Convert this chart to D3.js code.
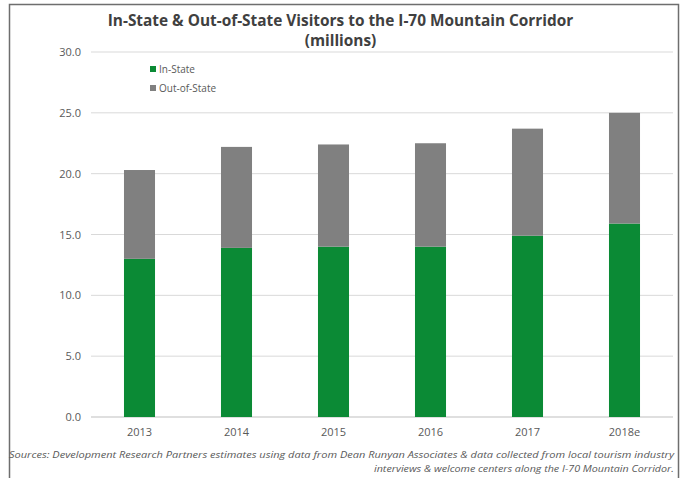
<!DOCTYPE html>
<html><head><meta charset="utf-8">
<script src="https://cdn.jsdelivr.net/npm/d3@7"></script>
<style>body{margin:0;background:#fff}svg{display:block}</style>
</head><body><svg id="c" width="684" height="478"></svg>
<script>
const years = ["2013","2014","2015","2016","2017","2018e"];
const inState = [13.0, 13.9, 14.0, 14.0, 14.9, 15.9];
const outState = [7.3, 8.3, 8.4, 8.5, 8.8, 9.1];
const yTicks = [0,5,10,15,20,25,30];
const seriesNames = ["In-State","Out-of-State"];
const colors = ["#0b8a35","#808080"];

const svg = d3.select("#c");
svg.append("rect").attr("x",9.5).attr("y",4.5).attr("width",669).attr("height",490)
  .attr("fill","#fff").attr("stroke","#6e6e6e").attr("stroke-width",1.5);

const m = {l:91, r:673, t:52, b:417};
const x = d3.scaleBand().domain(years).range([m.l,m.r]).paddingInner(0.68).paddingOuter(0.34);
const y = d3.scaleLinear().domain([0,30]).range([m.b,m.t]);

svg.append("g").selectAll("line").data(yTicks).join("line")
  .attr("x1",m.l).attr("x2",m.r).attr("y1",d=>y(d)).attr("y2",d=>y(d))
  .attr("stroke",d=>d===0?"#bfbfbf":"#d9d9d9").attr("stroke-width",1);

const yAxis = d3.axisLeft(y).tickValues(yTicks).tickFormat(d3.format(".1f")).tickSize(0).tickPadding(10);
const gy = svg.append("g").attr("transform",`translate(${m.l},0)`).call(yAxis);
gy.select(".domain").remove();
gy.selectAll("text").attr("font-family","Open Sans, sans-serif").attr("font-size",11).attr("fill","#595959");

const xAxis = d3.axisBottom(x).tickSize(0).tickPadding(11);
const gx = svg.append("g").attr("transform",`translate(0,${m.b})`).call(xAxis);
gx.select(".domain").remove();
gx.selectAll("text").attr("font-family","Open Sans, sans-serif").attr("font-size",11).attr("fill","#595959");

const data = years.map((yr,i)=>({year:yr,"In-State":inState[i],"Out-of-State":outState[i]}));
const stacked = d3.stack().keys(seriesNames)(data);
svg.append("g").selectAll("g").data(stacked).join("g").attr("fill",(d,i)=>colors[i])
  .selectAll("rect").data(d=>d).join("rect")
  .attr("x",d=>x(d.data.year)).attr("width",x.bandwidth())
  .attr("y",d=>y(d[1])).attr("height",d=>y(d[0])-y(d[1]));

const lg = svg.append("g");
seriesNames.forEach((n,i)=>{
  lg.append("rect").attr("x",150).attr("y",66+i*19).attr("width",6).attr("height",6).attr("fill",colors[i]);
  lg.append("text").attr("x",159).attr("y",72.5+i*19).text(n)
    .attr("font-family","Open Sans, sans-serif").attr("font-size",10).attr("fill","#595959");
});

const tt = svg.append("g").attr("text-anchor","middle").attr("font-family","Open Sans, sans-serif")
  .attr("font-weight","bold").attr("font-size",15.4).attr("fill","#404040");
tt.append("text").attr("x",340.5).attr("y",26)
  .text("In-State & Out-of-State Visitors to the I-70 Mountain Corridor");
tt.append("text").attr("x",340.5).attr("y",46).text("(millions)");

const src = svg.append("g").attr("font-family","Open Sans, sans-serif").attr("font-style","italic")
  .attr("font-size",8.5).attr("fill","#595959").attr("text-anchor","end");
src.append("text").attr("x",674).attr("y",458).attr("textLength",665).attr("lengthAdjust","spacingAndGlyphs")
  .text("Sources: Development Research Partners estimates using data from Dean Runyan Associates & data collected from local tourism industry");
src.append("text").attr("x",674).attr("y",472).attr("textLength",300).attr("lengthAdjust","spacingAndGlyphs")
  .text("interviews & welcome centers along the I-70 Mountain Corridor.");
</script></body></html>
